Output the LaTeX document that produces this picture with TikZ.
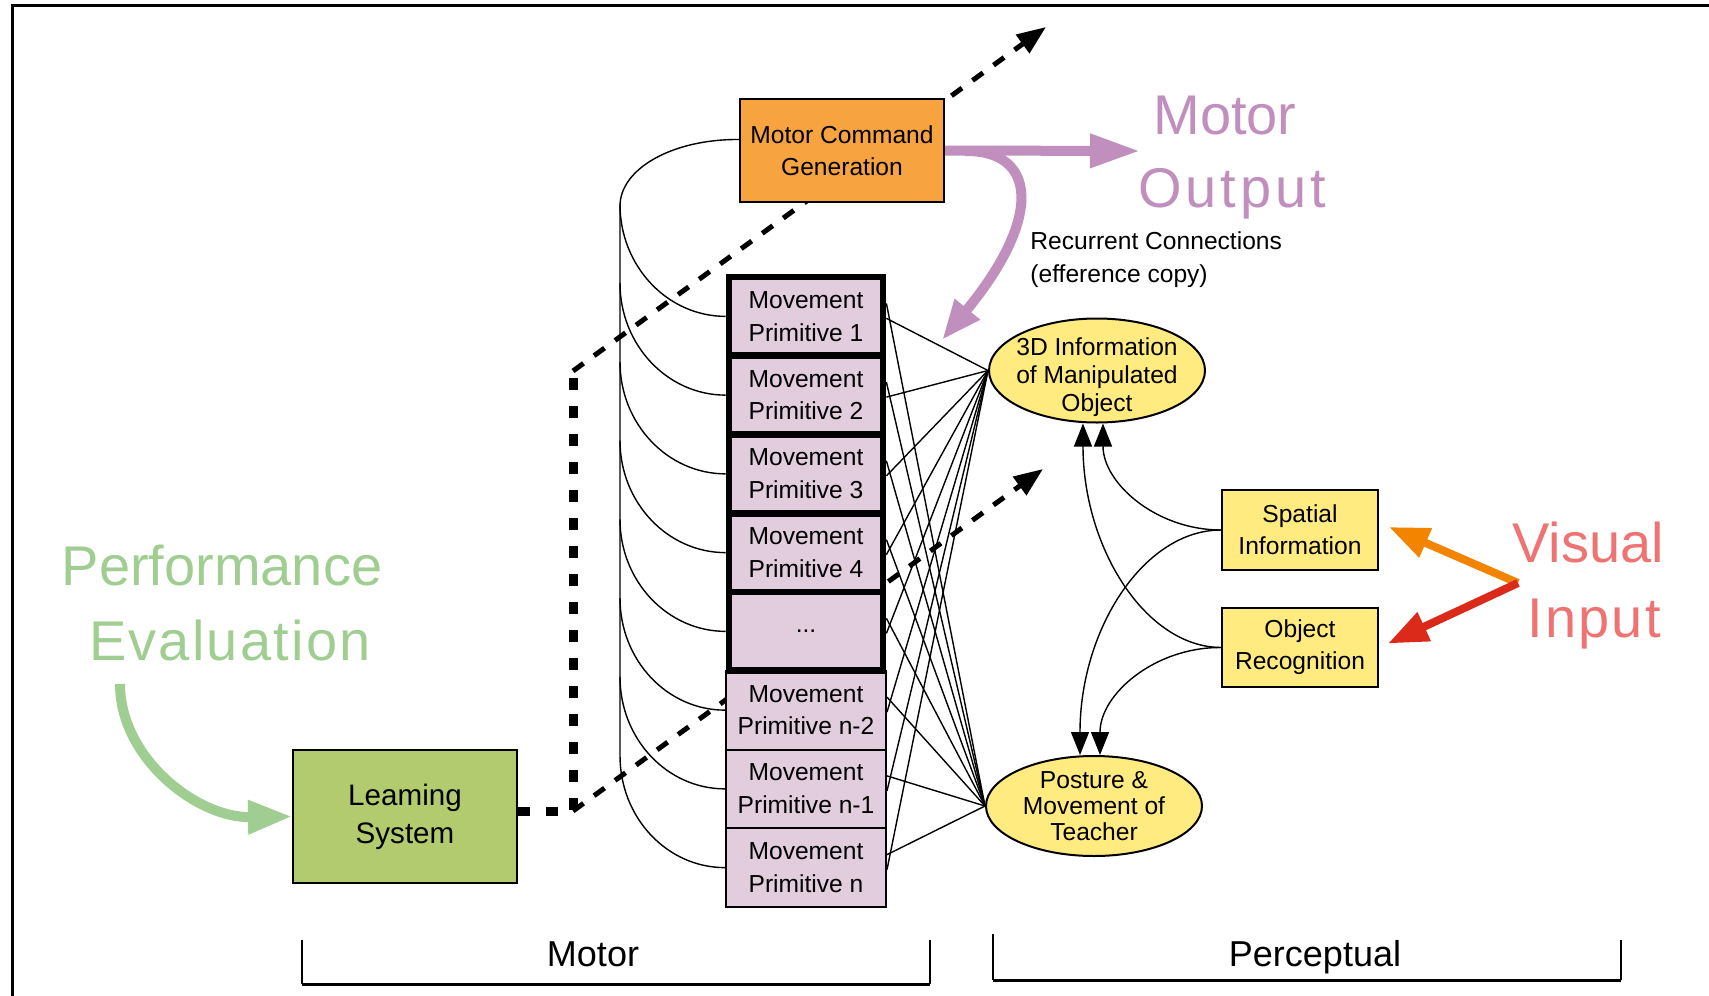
\documentclass[tikz,border=0pt]{standalone}
\usepackage{fontspec}
\setmainfont{Liberation Sans}
\usetikzlibrary{arrows.meta,shapes.geometric,calc}
\pgfdeclarelayer{background}
\pgfsetlayers{background,main}

\definecolor{mcgorange}{HTML}{F7A440}
\definecolor{primfill}{HTML}{E1CDDE}
\definecolor{percyellow}{HTML}{FFEB80}
\definecolor{learngreen}{HTML}{B2CB6E}
\definecolor{outpurple}{HTML}{C08FBE}
\definecolor{evalgreen}{HTML}{A0CD91}
\definecolor{vispink}{HTML}{F07373}
\definecolor{arroworange}{HTML}{F28400}
\definecolor{arrowred}{HTML}{DC2A1A}

\begin{document}
\begin{tikzpicture}[x=0.5pt,y=-0.5pt,
  box/.style={draw=black, line width=1pt, rectangle, inner sep=0pt, align=center, text=black},
  mpbox/.style={box, fill=primfill, minimum width=80pt, minimum height=39.375pt,
                font=\fontsize{12.3}{16.4}\selectfont},
  mpthick/.style={mpbox, line width=3.4pt, minimum width=77pt},
  oval/.style={ellipse, draw=black, line width=1pt, fill=percyellow,
               inner xsep=-3.5pt, inner ysep=-1.5pt,
               minimum width=108pt, align=center, font=\fontsize{12.3}{13}\selectfont},
  wire/.style={line width=0.7pt},
  blackhead/.style={-{Triangle[length=11.5pt,width=9pt]}},
  dashline/.style={line width=2.5pt, dash pattern=on 6.5pt off 6.5pt,
                   -{Triangle[length=14.5pt,width=11pt]}},
  dotline/.style={line width=4.5pt, dash pattern=on 6pt off 8pt},
  bigword/.style={anchor=base, inner sep=0pt, font=\fontsize{28}{34}\selectfont},
  fatarrow/.style={line width=5pt, -{Triangle[length=25pt,width=16pt]}},
  sidelabel/.style={anchor=base, inner sep=0pt, font=\fontsize{18}{22}\selectfont},
]
\useasboundingbox (0,0) rectangle (1709,996);

% outer frame (top and left edges)
\draw[line width=1.5pt] (12,996) -- (12,5) -- (1709,5);

% ---- motor side ----
\node[box, fill=mcgorange, minimum width=102pt, minimum height=51.5pt,
      font=\fontsize{12.3}{15.8}\selectfont] (mcg) at (842,150.5) {Motor Command\\Generation};

\node[mpbox] (p6) at (806,710.125) {Movement\\Primitive n-2};
\node[mpbox] (p7) at (806,788.875) {Movement\\Primitive n-1};
\node[mpbox] (p8) at (806,867.625) {Movement\\Primitive n};
\node[mpthick] (p1) at (806,316.375) {Movement\\Primitive 1};
\node[mpthick] (p2) at (806,395.125) {Movement\\Primitive 2};
\node[mpthick] (p3) at (806,473.875) {Movement\\Primitive 3};
\node[mpthick] (p4) at (806,552.625) {Movement\\Primitive 4};
\node[mpthick] (p5) at (806,631.375) {...};

\node[box, fill=learngreen, minimum width=112pt, minimum height=66.5pt,
      font=\fontsize{14.8}{19}\selectfont] (learn) at (405,816.5) {Leaming\\System};

% ---- perceptual side ----
\node[oval, minimum height=52pt, inner ysep=-5pt, font=\fontsize{12.3}{14}\selectfont]
     (info) at (1097,370.5) {\rule{0pt}{15.5pt}3D Information\\of Manipulated\\Object};
\node[oval, minimum height=50pt] (posture) at (1094,806) {Posture \&\\Movement of\\Teacher};
\node[box, fill=percyellow, minimum width=78pt, minimum height=40pt,
      font=\fontsize{12.3}{16}\selectfont] (spatial) at (1300,530) {Spatial\\Information};
\node[box, fill=percyellow, minimum width=78pt, minimum height=39.5pt,
      font=\fontsize{12.3}{16}\selectfont] (object) at (1300,647.5) {Object\\Recognition};

% ---- free labels ----
\node[bigword, text=outpurple] (motorword) at (1225,134) {Motor};
\node[bigword, text=outpurple] (outputword) at (1232,207) {\addfontfeatures{LetterSpace=7}Output};
\node[bigword, text=evalgreen] (perfword) at (222,585) {Performance};
\node[bigword, text=evalgreen] (evalword) at (230,660) {\addfontfeatures{LetterSpace=4}Evaluation};
\node[bigword, text=vispink] (visword) at (1588,562) {Visual};
\node[bigword, text=vispink] (inword) at (1594,637) {\addfontfeatures{LetterSpace=4}Input};
\node[anchor=west, align=left, inner sep=0pt, font=\fontsize{12.3}{16.5}\selectfont]
     (recur) at (1030,260) {Recurrent Connections\\(efference copy)};
\node[sidelabel] (motorlabel) at (593,966) {Motor};
\node[sidelabel] (perclabel) at (1315,966) {Perceptual};

% ---- helper points ----
\coordinate (spine) at (620,206);
\coordinate (spineend) at (620,755.6);
\coordinate (dotcorner) at (573,811);
\coordinate (dottop) at (573,371);
\coordinate (upperend) at (1046,27);
\coordinate (lowerend) at (1043,469);
\coordinate (motorout) at (1140,151);
\coordinate (branch) at (965,151);
\coordinate (recurtip) at (942,340);
\coordinate (evalstart) at (120,684);
\coordinate (visjunction) at (1518,583);

% learning signal: dashed lines run behind the boxes
\begin{pgfonlayer}{background}
  \draw[dashline] (dottop) -- (upperend);
  \draw[dashline] (dotcorner) -- (lowerend);
\end{pgfonlayer}
\draw[dotline] (dotcorner -| learn.east) -- (dotcorner) -- (dottop);

% motor command fan-out to the primitives
\draw[wire] ([yshift=5.5pt]mcg.west) .. controls (672,139) and (620,169) .. (spine) -- (spineend);
\foreach \k in {1,...,8} {
  \draw[wire] ($(p\k.west -| spine)+(0,-112)$)
      .. controls ($(p\k.west -| spine)+(0,-50)$) and ($(p\k.west)+(-58,0)$) .. (p\k.west);
}

% primitives to perceptual units
\foreach \k in {1,...,8} {
  \draw[wire] ($(p\k.east)+(0,2)$) -- (info.west);
  \draw[wire] ($(p\k.east)+(0,-13)$) -- (posture.west);
}

% visual pathways
\draw[wire, blackhead] (spatial.west) .. controls (1156,530) and (1103,483) .. ([xshift=3pt]info.south);
\draw[wire, blackhead] (object.west) .. controls (1145,647) and (1083,547) .. ([xshift=-7pt]info.south);
\draw[wire, blackhead] (spatial.west) .. controls (1144,530) and (1080,629) .. ([xshift=-7pt]posture.north);
\draw[wire, blackhead] (object.west) .. controls (1155,647) and (1100,694) .. ([xshift=3pt]posture.north);

% coloured arrows
\draw[fatarrow, outpurple] (mcg.east) -- (motorout);
\draw[fatarrow, outpurple, -{Triangle[length=20pt,width=15pt]}] (branch)
  .. controls (1035,150) and (1045,215) .. (recurtip);
\draw[fatarrow, evalgreen, -{Triangle[length=22pt,width=16pt]}] (evalstart)
  .. controls (120,758) and (197,818) .. (learn.west);
\draw[line width=4pt, arroworange, -{Triangle[length=20pt,width=15pt]}] (visjunction)
  -- ([xshift=5pt,yshift=1.5pt]spatial.east);
\draw[line width=4pt, arrowred, -{Triangle[length=20pt,width=15pt]}] (visjunction)
  -- ([xshift=4.5pt,yshift=2pt]object.east);

% Motor / Perceptual brackets
\draw[line width=0.8pt] (302,940) -- (302,984);
\draw[line width=0.8pt] (930,940) -- (930,984);
\draw[line width=1.5pt] (301.6,984) -- (930.4,984);
\draw[line width=0.8pt] (993,934) -- (993,980);
\draw[line width=0.8pt] (1621,940) -- (1621,980);
\draw[line width=1.5pt] (992.6,980) -- (1621.4,980);
\end{tikzpicture}
\end{document}
